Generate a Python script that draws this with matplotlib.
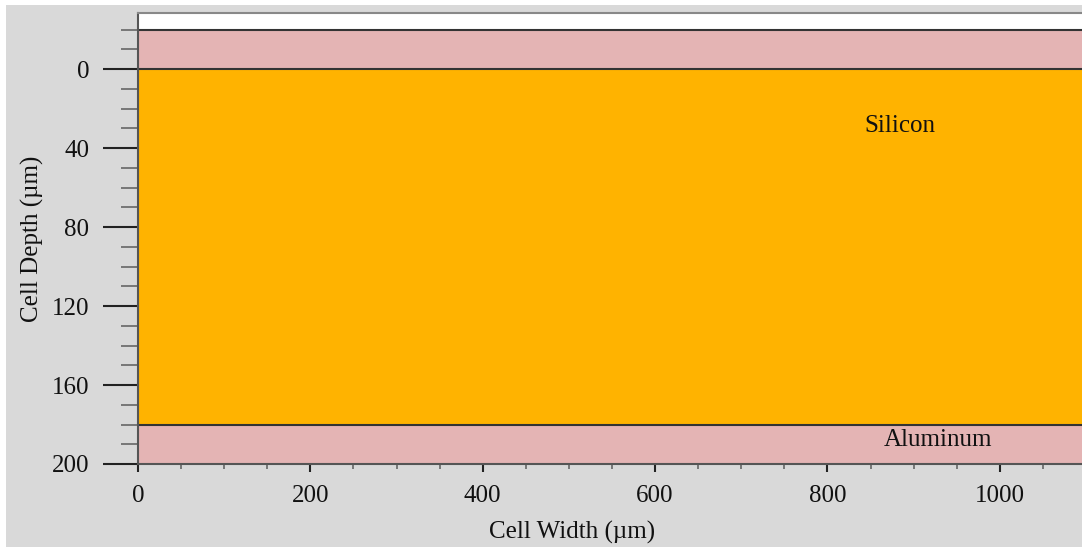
import matplotlib
matplotlib.use("Agg")
import matplotlib.pyplot as plt
from matplotlib.patches import Rectangle
from matplotlib.ticker import MultipleLocator

plt.rcParams['font.family'] = ['Liberation Serif', 'DejaVu Serif']

# Layer data (depth in µm)
layer_names = ["Front layer", "Silicon", "Aluminum"]
layer_top = [-20, 0, 180]
layer_bottom = [0, 180, 200]
layer_colors = ["#e4b4b4", "#ffb300", "#e4b4b4"]
label_texts = ["", "Silicon", "Aluminum"]
label_x = [0, 884, 928]
label_y = [0, 29, 188]

x_ticks = [0, 200, 400, 600, 800, 1000]
y_ticks = [0, 40, 80, 120, 160, 200]
cell_width = 1100

fig = plt.figure(figsize=(10.82, 5.47), dpi=100)
fig.patch.set_facecolor("white")
fig.patches.append(Rectangle((6 / 1082, 0), 1, 1 - 5 / 547, transform=fig.transFigure,
                             facecolor="#d9d9d9", edgecolor="none", zorder=-10))

W, H = 1082, 547
left, right, top, bottom = 138, 1086, 13, 464
ax = fig.add_axes([left / W, 1 - bottom / H, (right - left) / W, (bottom - top) / H])
ax.set_facecolor("white")

for t, b, c in zip(layer_top, layer_bottom, layer_colors):
    ax.add_patch(Rectangle((0, t), cell_width, b - t, facecolor=c, edgecolor="none", zorder=1))
for t in layer_top:
    ax.axhline(t, color="#333333", lw=1.5, zorder=2)

for txt, x, y in zip(label_texts, label_x, label_y):
    if txt:
        ax.text(x, y, txt, ha="center", va="center", fontsize=18, color="#111111", zorder=3)

ax.set_xlim(0, cell_width)
ax.set_ylim(200, -28.4)

ax.set_xticks(x_ticks)
ax.set_yticks(y_ticks)
ax.xaxis.set_minor_locator(MultipleLocator(50))
ax.yaxis.set_minor_locator(MultipleLocator(10))

ax.tick_params(axis="y", which="major", length=25, width=1.5, color="#222222",
               labelsize=18, pad=10, labelcolor="#111111")
ax.tick_params(axis="y", which="minor", length=12.5, width=1.2, color="#666666")
ax.tick_params(axis="x", which="major", length=6, width=1.5, color="#222222",
               labelsize=18, pad=9, labelcolor="#111111")
ax.tick_params(axis="x", which="minor", length=3.5, width=1.2, color="#666666")

for s in ["left", "bottom"]:
    ax.spines[s].set_color("#555555")
    ax.spines[s].set_linewidth(1.5)
ax.spines["top"].set_color("#888888")
ax.spines["top"].set_linewidth(1.5)
ax.spines["right"].set_visible(False)

ax.set_xlabel("Cell Width (µm)", fontsize=18, color="#111111")
ax.xaxis.set_label_coords((572 - left) / (right - left), -(532 - bottom) / (bottom - top))
ax.xaxis.label.set_va("center")
ax.set_ylabel("Cell Depth (µm)", fontsize=18, color="#111111", labelpad=6)

fig.savefig("out.png", dpi=100)
